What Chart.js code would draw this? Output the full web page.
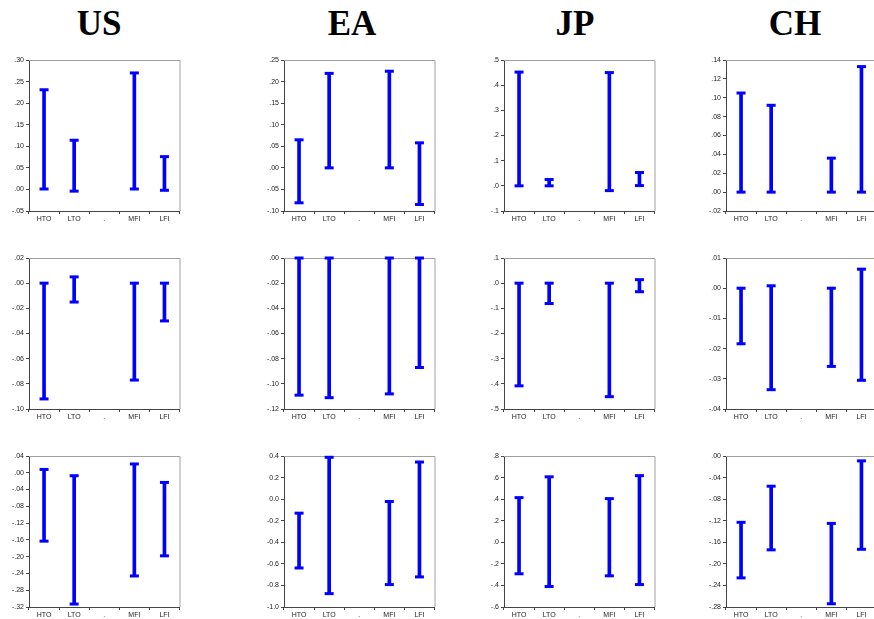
<!DOCTYPE html>
<html>
<head>
<meta charset="utf-8">
<script src="https://cdn.jsdelivr.net/npm/chart.js@4/dist/chart.umd.min.js"></script>
<style>
  html, body { margin: 0; padding: 0; background: #fff; width: 874px; height: 619px; overflow: hidden; }
  canvas { position: absolute; }
  .ttl { position: absolute; width: 120px; text-align: center; font-family: "Liberation Serif", "DejaVu Serif", serif;
         font-weight: bold; font-size: 35px; line-height: 35px; color: #000; }
</style>
</head>
<body>
<script>
// Categories on every panel's x axis ('.' is an empty separator slot)
const categories = ['HTO', 'LTO', '.', 'MFI', 'LFI'];
const regions = ['US', 'EA', 'JP', 'CH'];

// Interval bounds: row 1
const usLow1  = [0.001, -0.004, null, 0.001, -0.002];
const usHigh1 = [0.231, 0.114, null, 0.270, 0.076];
const eaLow1  = [-0.081, 0.000, null, 0.000, -0.085];
const eaHigh1 = [0.065, 0.219, null, 0.224, 0.058];
const jpLow1  = [0.000, 0.000, null, -0.019, 0.001];
const jpHigh1 = [0.452, 0.025, null, 0.450, 0.053];
const chLow1  = [0.000, 0.000, null, 0.000, 0.000];
const chHigh1 = [0.105, 0.092, null, 0.036, 0.133];

// Interval bounds: row 2
const usLow2  = [-0.092, -0.015, null, -0.077, -0.030];
const usHigh2 = [0.000, 0.005, null, 0.000, 0.000];
const eaLow2  = [-0.109, -0.111, null, -0.108, -0.087];
const eaHigh2 = [0.000, 0.000, null, 0.000, 0.000];
const jpLow2  = [-0.408, -0.081, null, -0.451, -0.034];
const jpHigh2 = [0.000, 0.000, null, 0.000, 0.014];
const chLow2  = [-0.0184, -0.0336, null, -0.0259, -0.0305];
const chHigh2 = [0.000, 0.0008, null, 0.000, 0.0063];

// Interval bounds: row 3
const usLow3  = [-0.163, -0.313, null, -0.246, -0.198];
const usHigh3 = [0.008, -0.007, null, 0.021, -0.023];
const eaLow3  = [-0.638, -0.876, null, -0.792, -0.721];
const eaHigh3 = [-0.130, 0.388, null, -0.022, 0.344];
const jpLow3  = [-0.292, -0.410, null, -0.311, -0.392];
const jpHigh3 = [0.414, 0.607, null, 0.405, 0.618];
const chLow3  = [-0.226, -0.174, null, -0.274, -0.173];
const chHigh3 = [-0.123, -0.056, null, -0.125, -0.009];

// Y tick labels for each panel (values are parsed from the text)
const usTicks1 = ['.30', '.25', '.20', '.15', '.10', '.05', '.00', '-.05'];
const eaTicks1 = ['.25', '.20', '.15', '.10', '.05', '.00', '-.05', '-.10'];
const jpTicks1 = ['.5', '.4', '.3', '.2', '.1', '.0', '-.1'];
const chTicks1 = ['.14', '.12', '.10', '.08', '.06', '.04', '.02', '.00', '-.02'];
const usTicks2 = ['.02', '.00', '-.02', '-.04', '-.06', '-.08', '-.10'];
const eaTicks2 = ['.00', '-.02', '-.04', '-.06', '-.08', '-.10', '-.12'];
const jpTicks2 = ['.1', '.0', '-.1', '-.2', '-.3', '-.4', '-.5'];
const chTicks2 = ['.01', '.00', '-.01', '-.02', '-.03', '-.04'];
const usTicks3 = ['.04', '.00', '-.04', '-.08', '-.12', '-.16', '-.20', '-.24', '-.28', '-.32'];
const eaTicks3 = ['0.4', '0.2', '0.0', '-0.2', '-0.4', '-0.6', '-0.8', '-1.0'];
const jpTicks3 = ['.8', '.6', '.4', '.2', '.0', '-.2', '-.4', '-.6'];
const chTicks3 = ['.00', '-.04', '-.08', '-.12', '-.16', '-.20', '-.24', '-.28'];

const panels = [
  [ {low: usLow1, high: usHigh1, ticks: usTicks1}, {low: eaLow1, high: eaHigh1, ticks: eaTicks1},
    {low: jpLow1, high: jpHigh1, ticks: jpTicks1}, {low: chLow1, high: chHigh1, ticks: chTicks1} ],
  [ {low: usLow2, high: usHigh2, ticks: usTicks2}, {low: eaLow2, high: eaHigh2, ticks: eaTicks2},
    {low: jpLow2, high: jpHigh2, ticks: jpTicks2}, {low: chLow2, high: chHigh2, ticks: chTicks2} ],
  [ {low: usLow3, high: usHigh3, ticks: usTicks3}, {low: eaLow3, high: eaHigh3, ticks: eaTicks3},
    {low: jpLow3, high: jpHigh3, ticks: jpTicks3}, {low: chLow3, high: chHigh3, ticks: chTicks3} ]
];

// Grid geometry
const COL_LEFT = [29, 284, 504, 726];
const ROW_TOP = [60, 258, 456];
const TITLE_CX = [99, 352, 575, 795];
const PLOT_W = 154, PLOT_H = 151;
const Y_W = 32, X_H = 14, PAD_T = 8, PAD_R = 4;
const BLUE = '#0000ff';
const AXIS = '#444';
const TICK_FONT = { family: 'Liberation Sans, Arial, sans-serif', size: 7 };

// Light frame along the top and right of the plot area
const frame = {
  id: 'frame',
  beforeDatasetsDraw(chart) {
    const a = chart.chartArea, ctx = chart.ctx;
    ctx.save();
    ctx.strokeStyle = '#a0a0a0';
    ctx.lineWidth = 1;
    ctx.beginPath();
    ctx.moveTo(a.left, a.top + 0.5);
    ctx.lineTo(a.right + 0.5, a.top + 0.5);
    ctx.lineTo(a.right + 0.5, a.bottom);
    ctx.stroke();
    ctx.restore();
  }
};

regions.forEach((r, c) => {
  const t = document.createElement('div');
  t.className = 'ttl';
  t.textContent = r;
  t.style.left = (TITLE_CX[c] - 60) + 'px';
  t.style.top = '6px';
  document.body.appendChild(t);
});

function capSet(values) {
  return {
    type: 'line', data: values, showLine: false, clip: false, order: 1,
    pointStyle: 'line', pointRadius: 4.5, pointHoverRadius: 4.5,
    pointBorderWidth: 3, borderColor: BLUE, pointBorderColor: BLUE, backgroundColor: BLUE
  };
}

function makePanel(p, row, col) {
  const cv = document.createElement('canvas');
  cv.width = Y_W + PLOT_W + PAD_R;
  cv.height = PAD_T + PLOT_H + X_H;
  cv.style.left = (COL_LEFT[col] - Y_W) + 'px';
  cv.style.top = (ROW_TOP[row] - PAD_T) + 'px';
  document.body.appendChild(cv);

  const tickVals = p.ticks.map(parseFloat);
  const yMin = Math.min(...tickVals), yMax = Math.max(...tickVals);
  const labelFor = v => {
    const i = tickVals.findIndex(t => Math.abs(t - v) < 1e-9);
    return i < 0 ? '' : p.ticks[i];
  };

  const chart = new Chart(cv, {
    type: 'bar',
    data: {
      labels: categories,
      datasets: [
        {
          type: 'bar', order: 2, clip: false,
          data: p.low.map((l, i) => (l === null ? null : [l, p.high[i]])),
          backgroundColor: BLUE, borderWidth: 0, barThickness: 3
        },
        capSet(p.low),
        capSet(p.high)
      ]
    },
    options: {
      responsive: false, animation: false, events: [],
      layout: { padding: { top: PAD_T, right: PAD_R, left: 0, bottom: 0 } },
      plugins: { legend: { display: false }, tooltip: { enabled: false } },
      scales: {
        x: {
          offset: true,
          grid: { offset: true, drawOnChartArea: false, drawTicks: true, tickLength: 3, color: AXIS },
          border: { color: AXIS },
          ticks: { font: TICK_FONT, color: '#222', padding: 1, maxRotation: 0, autoSkip: false },
          afterFit(s) { s.height = X_H; }
        },
        y: {
          min: yMin, max: yMax,
          afterBuildTicks(s) { s.ticks = tickVals.slice().sort((a, b) => a - b).map(v => ({ value: v })); },
          grid: { drawOnChartArea: false, drawTicks: true, tickLength: 3, color: AXIS },
          border: { color: AXIS },
          ticks: { font: TICK_FONT, color: '#222', padding: 2, callback: v => labelFor(v) },
          afterFit(s) { s.width = Y_W; }
        }
      }
    },
    plugins: [frame]
  });

  // keep the plot area on its grid position
  const a = chart.chartArea;
  cv.style.left = (COL_LEFT[col] - a.left) + 'px';
  cv.style.top = (ROW_TOP[row] - a.top) + 'px';
}

panels.forEach((rowPanels, r) => rowPanels.forEach((p, c) => makePanel(p, r, c)));
</script>
</body>
</html>
